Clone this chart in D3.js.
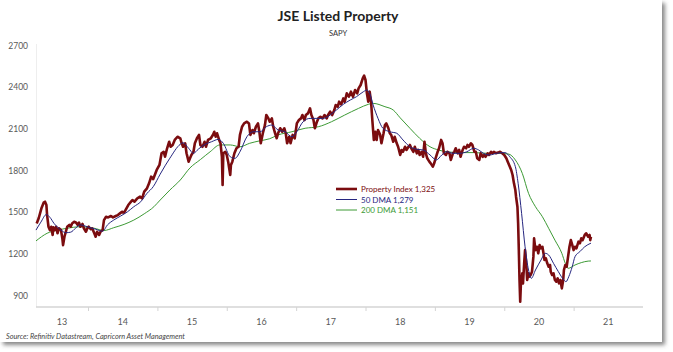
<!DOCTYPE html>
<html>
<head>
<meta charset="utf-8">
<script src="https://cdn.jsdelivr.net/npm/d3@7"></script>
<style>
  body { margin: 0; background: #fff; }
  svg { display: block; font-family: Lato, 'Open Sans', sans-serif; }
</style>
</head>
<body>
<svg id="chart"></svg>
<script>
// Dates are decimal years, values are index points
const indexDates = [2013.26,2013.29,2013.33,2013.36,2013.38,2013.40,2013.41,2013.43,2013.45,2013.47,2013.49,2013.50,2013.52,2013.54,2013.56,2013.58,2013.61,2013.63,2013.64,2013.66,2013.68,2013.70,2013.73,2013.75,2013.77,2013.80,2013.83,2013.85,2013.87,2013.89,2013.92,2013.94,2013.97,2013.99,2014.01,2014.04,2014.06,2014.09,2014.11,2014.13,2014.16,2014.18,2014.21,2014.23,2014.26,2014.29,2014.33,2014.36,2014.40,2014.43,2014.46,2014.49,2014.52,2014.54,2014.58,2014.62,2014.64,2014.67,2014.71,2014.75,2014.78,2014.81,2014.85,2014.88,2014.91,2014.94,2014.99,2015.03,2015.06,2015.09,2015.11,2015.14,2015.17,2015.19,2015.22,2015.25,2015.29,2015.33,2015.35,2015.37,2015.40,2015.42,2015.45,2015.47,2015.49,2015.52,2015.54,2015.57,2015.60,2015.62,2015.65,2015.68,2015.70,2015.73,2015.77,2015.80,2015.82,2015.84,2015.86,2015.89,2015.91,2015.93,2015.94,2015.95,2015.98,2016.00,2016.02,2016.05,2016.06,2016.08,2016.11,2016.14,2016.17,2016.19,2016.22,2016.25,2016.29,2016.32,2016.34,2016.37,2016.39,2016.42,2016.45,2016.47,2016.49,2016.52,2016.55,2016.57,2016.60,2016.62,2016.65,2016.67,2016.69,2016.72,2016.74,2016.77,2016.80,2016.83,2016.85,2016.87,2016.90,2016.92,2016.95,2016.98,2017.01,2017.04,2017.07,2017.09,2017.12,2017.14,2017.17,2017.20,2017.22,2017.25,2017.27,2017.30,2017.32,2017.35,2017.38,2017.41,2017.44,2017.46,2017.49,2017.52,2017.55,2017.57,2017.60,2017.62,2017.65,2017.68,2017.70,2017.73,2017.76,2017.79,2017.82,2017.85,2017.88,2017.90,2017.93,2017.96,2017.98,2018.00,2018.02,2018.04,2018.06,2018.08,2018.10,2018.12,2018.14,2018.16,2018.18,2018.21,2018.23,2018.26,2018.28,2018.30,2018.33,2018.35,2018.37,2018.40,2018.42,2018.45,2018.47,2018.50,2018.52,2018.54,2018.57,2018.59,2018.62,2018.64,2018.66,2018.69,2018.71,2018.74,2018.76,2018.78,2018.81,2018.83,2018.85,2018.87,2018.89,2018.92,2018.94,2018.97,2018.99,2019.01,2019.04,2019.06,2019.09,2019.11,2019.13,2019.16,2019.18,2019.21,2019.23,2019.26,2019.28,2019.30,2019.33,2019.35,2019.37,2019.40,2019.42,2019.45,2019.47,2019.49,2019.52,2019.54,2019.57,2019.59,2019.61,2019.64,2019.66,2019.69,2019.71,2019.73,2019.76,2019.78,2019.81,2019.83,2019.85,2019.88,2019.91,2019.94,2019.97,2020.00,2020.03,2020.05,2020.07,2020.10,2020.12,2020.14,2020.16,2020.17,2020.19,2020.20,2020.21,2020.22,2020.23,2020.24,2020.26,2020.27,2020.29,2020.30,2020.32,2020.33,2020.35,2020.36,2020.38,2020.40,2020.42,2020.43,2020.45,2020.47,2020.49,2020.51,2020.53,2020.55,2020.57,2020.58,2020.60,2020.62,2020.64,2020.66,2020.67,2020.69,2020.71,2020.73,2020.75,2020.77,2020.79,2020.81,2020.83,2020.85,2020.86,2020.88,2020.90,2020.92,2020.94,2020.96,2020.98,2021.00,2021.02,2021.04,2021.07,2021.09,2021.11,2021.13,2021.16,2021.18,2021.21,2021.23,2021.24,2021.25];
const indexValues = [1420,1460,1532,1570,1577,1553,1481,1397,1373,1397,1338,1393,1373,1397,1350,1386,1373,1313,1265,1325,1361,1397,1410,1397,1421,1433,1426,1410,1426,1397,1417,1386,1361,1386,1397,1379,1386,1350,1325,1361,1338,1361,1373,1445,1469,1464,1474,1464,1474,1481,1493,1505,1498,1517,1553,1577,1589,1577,1601,1613,1601,1649,1673,1709,1757,1740,1805,1841,1925,1936,1900,1961,2008,1972,1985,2021,2044,2033,1997,1972,1997,1925,1865,1889,1913,1936,1997,2033,2057,1985,1972,2008,1972,2021,2033,2057,2080,2044,2069,2021,1997,1900,1697,1925,1936,1913,1865,1769,1841,1865,1925,1961,1972,2057,2116,2140,2152,2140,2057,2092,2069,2116,2140,2080,1997,2069,2128,2200,2176,2152,2176,2116,2080,2033,2069,2105,2080,2105,2069,1997,2044,1997,2057,2033,2140,2164,2176,2200,2164,2200,2212,2248,2200,2164,2105,2152,2176,2188,2176,2200,2176,2200,2224,2200,2236,2272,2260,2296,2277,2320,2296,2356,2332,2368,2332,2380,2356,2392,2416,2464,2483,2452,2356,2296,2368,2296,2152,2021,2080,2021,2092,2060,1997,2069,2128,2140,2105,2069,2057,2008,2044,1997,1972,1913,1949,1936,1972,1949,1972,1985,1961,1936,1972,1925,1949,1913,1936,1900,2008,1925,1889,1865,1853,1829,1853,1889,1936,1961,2021,1997,1925,1913,1936,1925,1877,1925,1936,1961,1925,1949,1900,1949,1972,1961,1985,1972,1997,1985,1936,1936,1889,1877,1925,1900,1913,1900,1925,1913,1936,1925,1936,1925,1930,1936,1925,1913,1889,1865,1841,1805,1769,1709,1661,1613,1541,1421,1229,1014,858,990,1062,990,1158,1229,1110,1014,1062,1038,1050,1074,1182,1314,1229,1253,1206,1266,1242,1253,1194,1158,1170,1134,1110,1122,1074,1050,1062,1014,1002,1026,990,1014,954,1014,1086,1122,1110,1182,1253,1301,1266,1229,1253,1242,1290,1278,1314,1301,1338,1350,1325,1338,1301,1325];

const dma50Dates = [2013.25,2013.32,2013.40,2013.45,2013.51,2013.61,2013.68,2013.75,2013.82,2013.89,2013.99,2014.11,2014.21,2014.28,2014.37,2014.47,2014.57,2014.66,2014.76,2014.85,2014.94,2015.04,2015.18,2015.33,2015.37,2015.45,2015.52,2015.59,2015.69,2015.78,2015.88,2015.95,2016.05,2016.12,2016.19,2016.29,2016.38,2016.48,2016.57,2016.65,2016.74,2016.84,2016.94,2017.01,2017.10,2017.20,2017.30,2017.39,2017.49,2017.58,2017.68,2017.78,2017.87,2017.97,2018.02,2018.06,2018.11,2018.18,2018.25,2018.35,2018.45,2018.54,2018.64,2018.74,2018.83,2018.93,2019.02,2019.10,2019.17,2019.26,2019.36,2019.46,2019.56,2019.63,2019.70,2019.79,2019.89,2020.01,2020.08,2020.16,2020.20,2020.25,2020.30,2020.35,2020.39,2020.45,2020.53,2020.59,2020.64,2020.71,2020.78,2020.86,2020.89,2020.93,2020.98,2021.02,2021.09,2021.16,2021.25];
const dma50Values = [1373,1430,1485,1465,1421,1373,1354,1358,1386,1410,1397,1379,1365,1410,1445,1474,1505,1541,1577,1637,1685,1775,1890,1990,2001,1961,1925,1955,1990,2008,2025,1997,1900,1889,1936,2044,2080,2080,2116,2128,2092,2080,2044,2080,2152,2176,2176,2176,2200,2236,2277,2308,2332,2368,2380,2356,2272,2176,2105,2080,2069,2021,1972,1954,1949,1913,1877,1913,1936,1925,1925,1936,1961,1949,1925,1913,1925,1930,1900,1829,1709,1493,1253,1086,1026,1086,1158,1206,1194,1134,1074,1014,1002,1038,1110,1182,1218,1253,1279];

const dma200Dates = [2013.25,2013.41,2013.56,2013.70,2013.89,2014.09,2014.23,2014.37,2014.52,2014.66,2014.81,2014.95,2015.04,2015.18,2015.33,2015.47,2015.62,2015.76,2015.90,2016.05,2016.19,2016.33,2016.48,2016.62,2016.74,2016.94,2017.13,2017.32,2017.51,2017.70,2017.90,2018.04,2018.11,2018.28,2018.40,2018.50,2018.64,2018.78,2018.93,2019.05,2019.17,2019.36,2019.56,2019.75,2019.91,2020.06,2020.16,2020.26,2020.35,2020.45,2020.55,2020.64,2020.73,2020.83,2020.88,2020.92,2021.02,2021.11,2021.21,2021.25];
const dma200Values = [1295,1350,1373,1386,1397,1386,1370,1390,1414,1445,1490,1541,1589,1661,1733,1820,1880,1936,1985,1985,1972,1997,2015,2030,2057,2080,2105,2116,2152,2200,2248,2277,2284,2260,2236,2180,2105,2033,1972,1949,1936,1930,1930,1925,1925,1920,1877,1781,1637,1541,1469,1386,1301,1206,1134,1098,1122,1139,1150,1151];

const yTicks = [900, 1200, 1500, 1800, 2100, 2400, 2700];
const yearTicks = [2014, 2015, 2016, 2017, 2018, 2019, 2020, 2021];
const yearLabels = ['13', '14', '15', '16', '17', '18', '19', '20', '21'];
const legendLabels = ['Property Index 1,325', '50 DMA 1,279', '200 DMA 1,151'];

const width = 673, height = 352;
const colors = { index: '#7b0c0f', dma50: '#262680', dma200: '#3d9a35' };

const svg = d3.select('#chart')
  .attr('width', width)
  .attr('height', height);

// drop shadow frame
const defs = svg.append('defs');
const f = defs.append('filter').attr('id', 'shadow')
  .attr('x', '-5%').attr('y', '-5%').attr('width', '110%').attr('height', '115%');
f.append('feDropShadow').attr('dx', 3).attr('dy', 3).attr('stdDeviation', 2)
  .attr('flood-color', '#555').attr('flood-opacity', 0.7);

svg.append('rect')
  .attr('x', 0).attr('y', 0)
  .attr('width', 662).attr('height', 342)
  .attr('fill', '#fff')
  .attr('filter', 'url(#shadow)');

const x = d3.scaleLinear().domain([2013.25, 2022]).range([36, 643]);
const y = d3.scaleLinear().domain([820, 2700]).range([307, 45.5]);

// Title
svg.append('text')
  .attr('x', 338).attr('y', 21)
  .attr('text-anchor', 'middle')
  .attr('font-size', '14px')
  .attr('font-weight', '700')
  .attr('fill', '#222')
  .text('JSE Listed Property');

svg.append('text')
  .attr('x', 338).attr('y', 36)
  .attr('text-anchor', 'middle')
  .attr('font-size', '7.5px')
  .attr('fill', '#333')
  .text('SAPY');

// Y labels (no axis line, just labels)
svg.append('g')
  .selectAll('text')
  .data(yTicks)
  .join('text')
  .attr('x', 28)
  .attr('y', d => y(d) + 3)
  .attr('text-anchor', 'end')
  .attr('font-size', '8.5px')
  .attr('fill', '#595959')
  .text(d => d);

// faint y axis
svg.append('line')
  .attr('x1', 36.5).attr('x2', 36.5)
  .attr('y1', 44).attr('y2', 307)
  .attr('stroke', '#eeeeee');

// X axis
const xAxis = svg.append('g')
  .attr('transform', 'translate(0, 307)')
  .call(d3.axisBottom(x).tickValues(yearTicks).tickSize(4).tickFormat(''));
xAxis.select('.domain').attr('stroke', '#d4d4d4').attr('stroke-width', 1.5)
  .attr('d', `M${x.range()[0]},0H${x.range()[1]}`);
xAxis.selectAll('.tick line').attr('stroke', '#d4d4d4');

const yearStarts = [2013.25].concat(yearTicks);
svg.append('g')
  .selectAll('text')
  .data(yearLabels)
  .join('text')
  .attr('x', (d, i) => (x(yearStarts[i]) + x(i === 0 ? 2014 : yearStarts[i] + 1)) / 2)
  .attr('y', 325)
  .attr('text-anchor', 'middle')
  .attr('font-size', '9px')
  .attr('fill', '#595959')
  .text(d => d);

// Lines
const line = d3.line().x(d => x(d[0])).y(d => y(d[1]));
const series = [
  { key: 'dma200', pts: d3.zip(dma200Dates, dma200Values), w: 1 },
  { key: 'index', pts: d3.zip(indexDates, indexValues), w: 2.6 },
  { key: 'dma50', pts: d3.zip(dma50Dates, dma50Values), w: 1 }
];
series.forEach(s => {
  svg.append('path')
    .datum(s.pts)
    .attr('d', line.curve(s.key === 'index' ? d3.curveLinear : d3.curveMonotoneX))
    .attr('fill', 'none')
    .attr('stroke', colors[s.key])
    .attr('stroke-width', s.w)
    .attr('stroke-linejoin', 'round');
});

// Legend
const legendKeys = ['index', 'dma50', 'dma200'];
const lg = svg.append('g').attr('transform', 'translate(336, 189)');
legendKeys.forEach((k, i) => {
  lg.append('line')
    .attr('x1', 0).attr('x2', 21)
    .attr('y1', i * 10.5).attr('y2', i * 10.5)
    .attr('stroke', colors[k])
    .attr('stroke-width', k === 'index' ? 2.6 : 1);
  lg.append('text')
    .attr('x', 25).attr('y', i * 10.5 + 3)
    .attr('font-size', '8px')
    .attr('fill', colors[k])
    .text(legendLabels[i]);
});

// Source
svg.append('text')
  .attr('x', 6).attr('y', 339)
  .attr('font-size', '7.3px')
  .attr('font-style', 'italic')
  .attr('fill', '#444')
  .text('Source: Refinitiv Datastream, Capricorn Asset Management');
</script>
</body>
</html>
